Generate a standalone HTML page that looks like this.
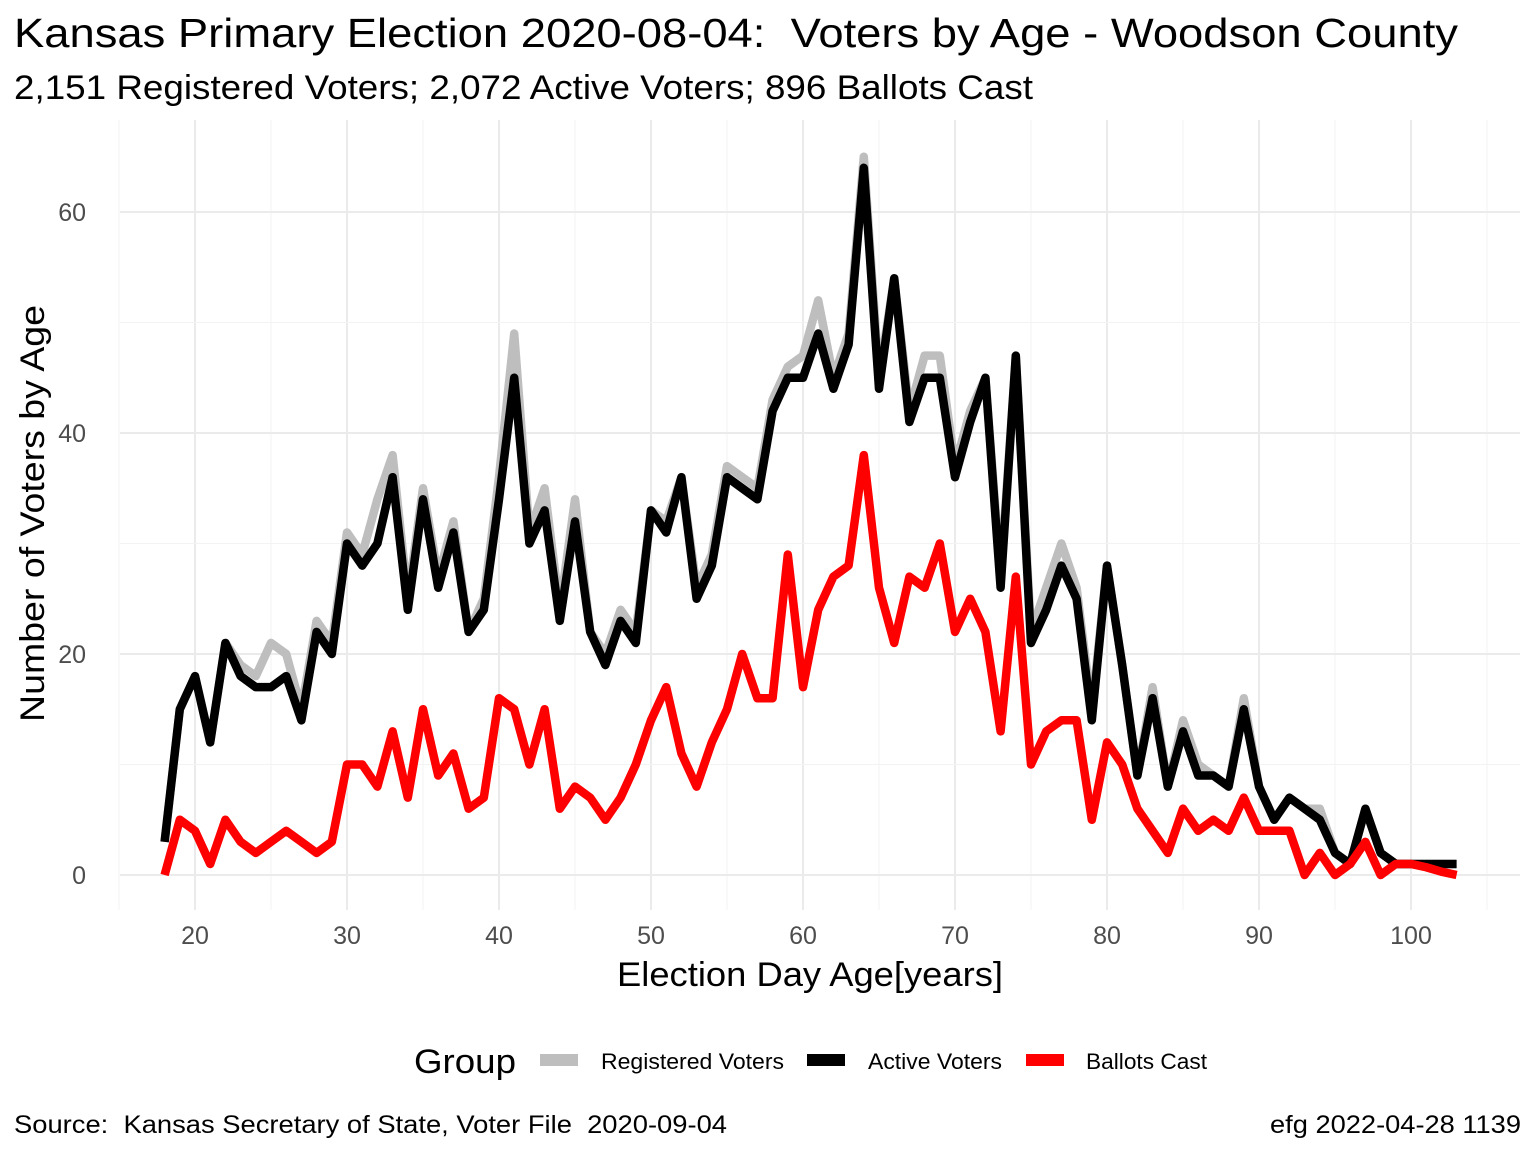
<!DOCTYPE html>
<html><head><meta charset="utf-8"><style>
body{margin:0;background:#fff}
svg{display:block;font-family:"Liberation Sans",sans-serif}
text{white-space:pre}
</style></head><body>
<svg id="c" width="1536" height="1152">
<text x="14" y="47" font-size="41" textLength="1444" lengthAdjust="spacingAndGlyphs">Kansas Primary Election 2020-08-04:  Voters by Age - Woodson County</text>
<text x="14" y="99" font-size="34" textLength="1019" lengthAdjust="spacingAndGlyphs">2,151 Registered Voters; 2,072 Active Voters; 896 Ballots Cast</text>
<g id="grid"></g>
<g id="lines"></g>
<g id="ticks"></g>
<text x="617" y="986" font-size="34" textLength="386" lengthAdjust="spacingAndGlyphs">Election Day Age[years]</text>
<text transform="translate(44,722) rotate(-90)" font-size="34" textLength="417" lengthAdjust="spacingAndGlyphs">Number of Voters by Age</text>
<g>
<text x="414" y="1073" font-size="34" textLength="102" lengthAdjust="spacingAndGlyphs">Group</text>
<rect x="540" y="1054" width="38" height="12" fill="#bebebe"/>
<text x="601" y="1069" font-size="22" textLength="183" lengthAdjust="spacingAndGlyphs">Registered Voters</text>
<rect x="807" y="1054" width="38" height="12" fill="#000"/>
<text x="868" y="1069" font-size="22" textLength="134" lengthAdjust="spacingAndGlyphs">Active Voters</text>
<rect x="1026" y="1054" width="38" height="12" fill="#ff0000"/>
<text x="1086" y="1069" font-size="22" textLength="121" lengthAdjust="spacingAndGlyphs">Ballots Cast</text>
</g>
<text x="14" y="1133" font-size="25" textLength="713" lengthAdjust="spacingAndGlyphs">Source:  Kansas Secretary of State, Voter File  2020-09-04</text>
<text x="1270" y="1133" font-size="25" textLength="251" lengthAdjust="spacingAndGlyphs">efg 2022-04-28 1139</text>
</svg>
<script>
const ages=[];for(let a=18;a<=103;a++)ages.push(a);
const registered=[3,15,18,12,21,19,18,21,20,15,23,21,31,29,34,38,25,35,27,32,22,25,36,49,31,35,24,34,22,20,24,22,33,32,36,26,29,37,36,35,43,46,47,52,45,49,65,45,54,42,47,47,37,42,45,27,47,22,26,30,26,15,28,19,9,17,8,14,10,9,8,16,8,5,7,6,6,2,1,6,2,1,1,1,1,1];
const active=[3,15,18,12,21,18,17,17,18,14,22,20,30,28,30,36,24,34,26,31,22,24,34,45,30,33,23,32,22,19,23,21,33,31,36,25,28,36,35,34,42,45,45,49,44,48,64,44,54,41,45,45,36,41,45,26,47,21,24,28,25,14,28,19,9,16,8,13,9,9,8,15,8,5,7,6,5,2,1,6,2,1,1,1,1,1];
const ballots=[0,5,4,1,5,3,2,3,4,3,2,3,10,10,8,13,7,15,9,11,6,7,16,15,10,15,6,8,7,5,7,10,14,17,11,8,12,15,20,16,16,29,17,24,27,28,38,26,21,27,26,30,22,25,22,13,27,10,13,14,14,5,12,10,6,4,2,6,4,5,4,7,4,4,4,0,2,0,1,3,0,1,1,0.7,0.3,0];
const xTicks=[20,30,40,50,60,70,80,90,100];
const yTicks=[0,20,40,60];
const X=v=>195+(v-20)*15.2, Y=v=>875-v*11.05;
const NS="http://www.w3.org/2000/svg";
function mk(p,t,at){const e=document.createElementNS(NS,t);for(const k in at)e.setAttribute(k,at[k]);p.appendChild(e);return e;}
const g=document.getElementById('grid'),L=document.getElementById('lines'),T=document.getElementById('ticks');
for(let v=15;v<=105;v+=5){const l=mk(g,'line',{x1:X(v),x2:X(v),y1:120,y2:910,stroke:v%10?'#f3f3f3':'#ebebeb','stroke-width':v%10?1:2});

}
for(let v=0;v<=60;v+=10){const l=mk(g,'line',{x1:120,x2:1520,y1:Y(v),y2:Y(v),stroke:v%20?'#f3f3f3':'#ebebeb','stroke-width':v%20?1:2});

}
xTicks.forEach(v=>{const t=mk(T,'text',{x:X(v),y:944,'font-size':25,fill:'#4d4d4d','text-anchor':'middle'});t.textContent=v;

});
yTicks.forEach(v=>{const t=mk(T,'text',{x:86,y:Y(v)+9,'font-size':25,fill:'#4d4d4d','text-anchor':'end'});t.textContent=v;

});
[[registered,'#bebebe','line-registered'],[active,'#000','line-active'],[ballots,'#ff0000','line-ballots']].forEach(([d,c,n])=>{
const p=mk(L,'polyline',{points:d.map((v,i)=>X(ages[i])+','+Y(v)).join(' '),fill:'none',stroke:c,'stroke-width':8.5,'stroke-linejoin':'round'});

});
</script>
</body></html>
